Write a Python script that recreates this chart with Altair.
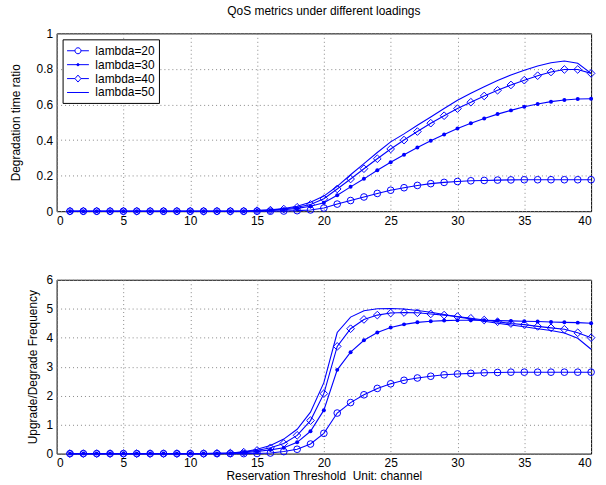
import altair as alt
import pandas as pd

BLUE = "#0000ff"
FONT = "Liberation Sans"

x_vals = list(range(1, 41))
series_names = ["lambda=20", "lambda=30", "lambda=40", "lambda=50"]

# Top panel: Degradation time ratio
top_l20 = [0, 0, 0, 0, 0, 0, 0, 0, 0, 0, 0, 0, 0, 0, 0, 0,
           0.001, 0.003, 0.007, 0.018, 0.04, 0.06, 0.08, 0.10, 0.118, 0.132,
           0.145, 0.155, 0.162, 0.167, 0.171, 0.173, 0.175, 0.176, 0.177, 0.177,
           0.177, 0.177, 0.177, 0.177]
top_l30 = [0, 0, 0, 0, 0, 0, 0, 0, 0, 0, 0, 0, 0, 0,
           0.002, 0.004, 0.008, 0.016, 0.028, 0.047, 0.09, 0.137, 0.182, 0.23,
           0.275, 0.318, 0.358, 0.396, 0.431, 0.465, 0.494, 0.521, 0.546, 0.567,
           0.587, 0.603, 0.616, 0.625, 0.631, 0.632]
top_l40 = [0, 0, 0, 0, 0, 0, 0, 0, 0, 0, 0, 0, 0, 0,
           0.003, 0.006, 0.012, 0.022, 0.038, 0.07, 0.125, 0.181, 0.239, 0.295,
           0.35, 0.40, 0.448, 0.495, 0.537, 0.577, 0.613, 0.648, 0.68, 0.71,
           0.737, 0.762, 0.783, 0.797, 0.797, 0.775]
top_l50 = [0, 0, 0, 0, 0, 0, 0, 0, 0, 0, 0, 0, 0, 0,
           0.004, 0.008, 0.015, 0.028, 0.05, 0.085, 0.14, 0.205, 0.268, 0.33,
           0.39, 0.435, 0.483, 0.53, 0.578, 0.624, 0.663, 0.70, 0.735, 0.766,
           0.793, 0.817, 0.835, 0.845, 0.832, 0.775]

# Bottom panel: Upgrade/Degrade Frequency
bot_l20 = [0, 0, 0, 0, 0, 0, 0, 0, 0, 0, 0, 0, 0, 0,
           0.005, 0.02, 0.07, 0.15, 0.33, 0.7, 1.4, 1.76, 2.03, 2.25,
           2.41, 2.53, 2.61, 2.67, 2.72, 2.75, 2.77, 2.79, 2.8, 2.81,
           2.81, 2.81, 2.81, 2.81, 2.81, 2.81]
bot_l30 = [0, 0, 0, 0, 0, 0, 0, 0, 0, 0, 0, 0,
           0.01, 0.03, 0.07, 0.13, 0.2, 0.39, 0.77, 1.5, 2.89, 3.5, 3.91, 4.18,
           4.35, 4.46, 4.53, 4.57, 4.59, 4.6, 4.6, 4.6, 4.59, 4.58,
           4.57, 4.56, 4.54, 4.53, 4.52, 4.5]
bot_l40 = [0, 0, 0, 0, 0, 0, 0, 0, 0, 0, 0,
           0.01, 0.02, 0.05, 0.11, 0.2, 0.35, 0.63, 1.14, 2.07, 3.7, 4.31, 4.63, 4.78,
           4.85, 4.87, 4.86, 4.82, 4.78, 4.73, 4.67, 4.61, 4.55, 4.49,
           4.45, 4.39, 4.34, 4.29, 4.17, 4.0]
bot_l50 = [0, 0, 0, 0, 0, 0, 0, 0, 0, 0, 0,
           0.01, 0.02, 0.06, 0.15, 0.28, 0.5, 0.84, 1.43, 2.45, 4.18, 4.71, 4.93, 5.0,
           5.01, 4.99, 4.94, 4.88, 4.8, 4.72, 4.65, 4.57, 4.5, 4.44,
           4.38, 4.31, 4.25, 4.16, 3.98, 3.6]

x_ticks = [0, 5, 10, 15, 20, 25, 30, 35, 40]
top_ticks = [0, 0.2, 0.4, 0.6, 0.8, 1]
bot_ticks = [0, 1, 2, 3, 4, 5, 6]


def long_df(cols):
    rows = []
    for name, vals in zip(series_names, cols):
        for xv, v in zip(x_vals, vals):
            rows.append({"x": xv, "v": v, "series": name})
    return pd.DataFrame(rows)


top_df = long_df([top_l20, top_l30, top_l40, top_l50])
bot_df = long_df([bot_l20, bot_l30, bot_l40, bot_l50])

# legend symbols: line with marker; unit = 7px (symbol size 196)
legend_paths = [
    "M-1,0H0.14M1,0H2.14M0.14,0A0.43,0.43 0 1,0 1,0A0.43,0.43 0 1,0 0.14,0",
    "M-1,0H2.14M0.42,0A0.15,0.15 0 1,0 0.72,0A0.15,0.15 0 1,0 0.42,0M0.35,0H0.79M0.57,-0.22V0.22",
    "M-1,0H0.14M1,0H2.14M0.57,-0.5L1,0L0.57,0.5L0.14,0Z",
    "M-1,0H2.14",
]


def panel(df, ytitle, ydom, yticks, ytitle_pad, xtitle, with_legend, height, title=None):
    base = alt.Chart(df)
    xaxis = dict(values=x_ticks, titlePadding=2)
    xaxis["title"] = xtitle if xtitle else ""
    xenc = alt.X(
        "x:Q",
        scale=alt.Scale(domain=[0, 40], nice=False, zero=False),
        axis=alt.Axis(**xaxis),
    )
    yenc = alt.Y(
        "v:Q",
        scale=alt.Scale(domain=ydom, nice=False),
        axis=alt.Axis(values=yticks, format="~g", title=ytitle, titlePadding=ytitle_pad),
    )
    lines = base.mark_line(color=BLUE, strokeWidth=1.1).encode(x=xenc, y=yenc, detail="series:N")
    circles = base.transform_filter(alt.datum.series == "lambda=20").mark_point(
        shape="circle", filled=False, size=45, color=BLUE, strokeWidth=1, opacity=1
    ).encode(x=xenc, y=yenc)
    stars = base.transform_filter(alt.datum.series == "lambda=30").mark_point(
        shape="circle", filled=True, size=16, color=BLUE, opacity=1
    ).encode(x=xenc, y=yenc)
    diamonds = base.transform_filter(alt.datum.series == "lambda=40").mark_point(
        shape="diamond", filled=False, size=60, color=BLUE, strokeWidth=1, opacity=1
    ).encode(x=xenc, y=yenc)
    layers = [lines, circles, stars, diamonds]
    if with_legend:
        leg = base.transform_filter("datum.x < 0").mark_point(
            filled=False, color=BLUE, strokeWidth=1, opacity=1
        ).encode(
            x=xenc,
            y=yenc,
            shape=alt.Shape(
                "series:N",
                scale=alt.Scale(domain=series_names, range=legend_paths),
                legend=alt.Legend(
                    title=None,
                    orient="top-left",
                    offset=6,
                    padding=4,
                    strokeColor="black",
                    fillColor="white",
                    labelFont=FONT,
                    labelFontSize=12,
                    labelColor="black",
                    labelOffset=14,
                    rowPadding=0,
                    symbolSize=196,
                    symbolStrokeWidth=1,
                    symbolStrokeColor=BLUE,
                    symbolFillColor="transparent",
                ),
            ),
        )
        layers.append(leg)
    props = dict(width=538, height=height)
    if title:
        props["title"] = alt.TitleParams(
            title, fontSize=12, fontWeight="normal", font=FONT, color="black",
            anchor="middle", frame="group", offset=10,
        )
    return alt.layer(*layers).properties(**props)


top = panel(top_df, "Degradation time ratio", [0, 1], top_ticks, 14, None, True, 179,
            title="QoS metrics under different loadings")
bot = panel(bot_df, "Upgrade/Degrade Frequency", [0, 6], bot_ticks, 7,
            "Reservation Threshold\u00a0 Unit: channel", False, 175)

chart = alt.vconcat(top, bot, spacing=46).properties(
    padding={"left": 8, "top": 2, "right": 8, "bottom": 0},
    background="white",
).configure_view(
    stroke="black", strokeWidth=1
).configure_axis(
    domain=False,
    ticks=False,
    grid=True,
    gridColor="#888888",
    gridDash=[1, 3],
    gridWidth=1,
    labelFont=FONT,
    labelFontSize=12,
    labelColor="black",
    labelPadding=4,
    titleFont=FONT,
    titleFontSize=12,
    titleFontWeight="normal",
    titleColor="black",
)

chart.save("out.html", embed_options={"renderer": "svg", "actions": False})
